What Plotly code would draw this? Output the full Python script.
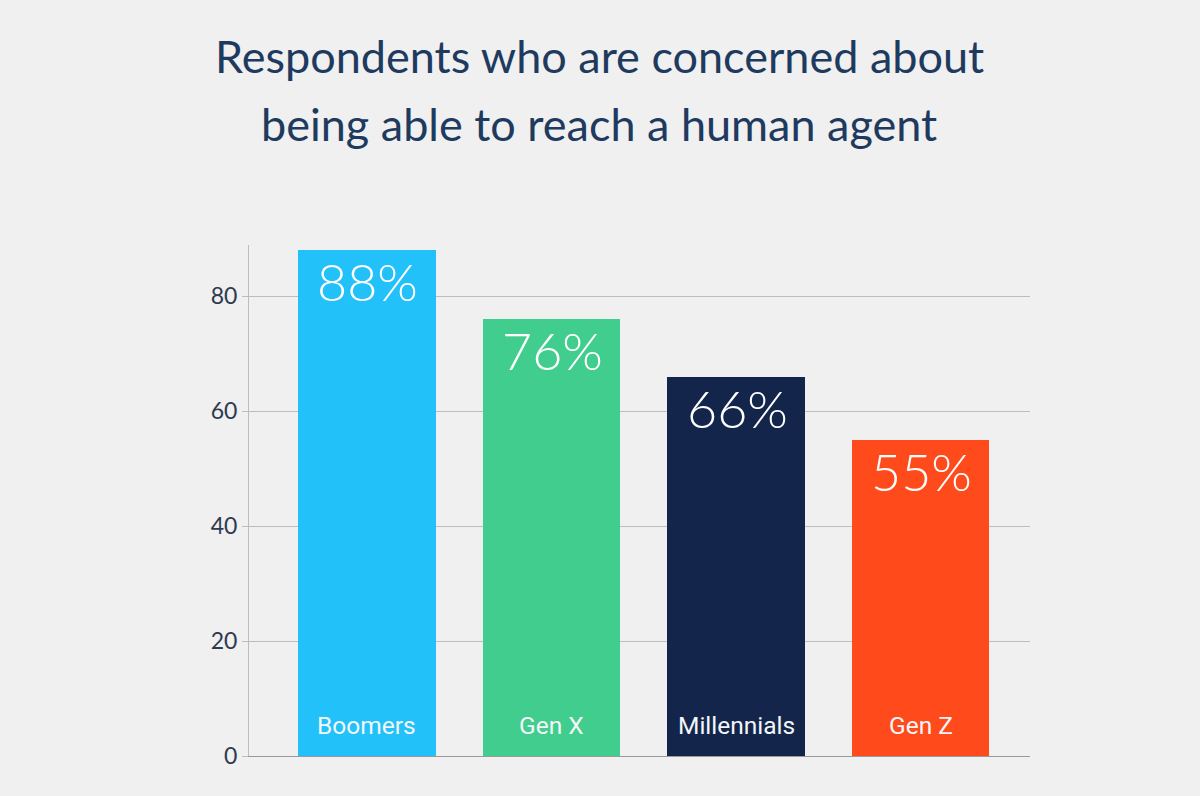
import plotly.graph_objects as go

categories = ["Boomers", "Gen X", "Millennials", "Gen Z"]
values = [88, 76, 66, 55]
value_labels = ["88%", "76%", "66%", "55%"]
bar_colors = ["#22C1F9", "#40CD8E", "#14254C", "#FF4A1C"]
y_ticks = [0, 20, 40, 60, 80]
title_lines = ["Respondents who are concerned about", "being able to reach a human agent"]

BG = "#EFF0EF"
NAVY = "#1E3A5F"

fig = go.Figure()
fig.add_trace(go.Bar(
    x=categories, y=values, width=0.744,
    marker=dict(color=bar_colors, line=dict(width=0)),
    hoverinfo="skip", showlegend=False,
))

annotations = []
for c, v, lab in zip(categories, values, value_labels):
    annotations.append(dict(x=c, y=v, xref="x", yref="y", text=lab, showarrow=False,
                            yanchor="top", yshift=2, xshift=1,
                            font=dict(family="Lato", size=52, color="white", weight=300)))
    annotations.append(dict(x=c, y=0, xref="x", yref="y", text=c, showarrow=False,
                            yanchor="bottom", yshift=14,
                            font=dict(family="Roboto", size=24.5, color="#F3F6F8")))

plot_top, plot_bot = 245, 756
for i, (line, py) in enumerate(zip(title_lines, [56, 124])):
    annotations.append(dict(x=0.5, xref="paper", y=(plot_bot - py) / (plot_bot - plot_top), yref="paper",
                            text=line, showarrow=False, yanchor="middle", xanchor="center",
                            xshift=599 - (249 + 1030) / 2,
                            font=dict(family="Lato", size=45, color=NAVY)))

fig.update_layout(
    width=1200, height=796,
    paper_bgcolor=BG, plot_bgcolor=BG,
    margin=dict(l=249, r=170, t=245, b=40),
    annotations=annotations,
    xaxis=dict(type="category", range=[-0.639, 3.592], showticklabels=False, showgrid=False,
               zeroline=False, showline=True, linecolor="#9A9A9A", linewidth=1.2, ticks=""),
    yaxis=dict(range=[0, 88.9], tickvals=y_ticks, showgrid=True, gridcolor="#BDBDBD", gridwidth=1,
               zeroline=False, showline=True, linecolor="#BDBDBD", linewidth=1,
               ticks="outside", ticklen=6, tickcolor="#BDBDBD",
               tickfont=dict(family="Lato", size=23, color="#2E3A50")),
    bargap=0,
)

fig.write_html("out.html")
